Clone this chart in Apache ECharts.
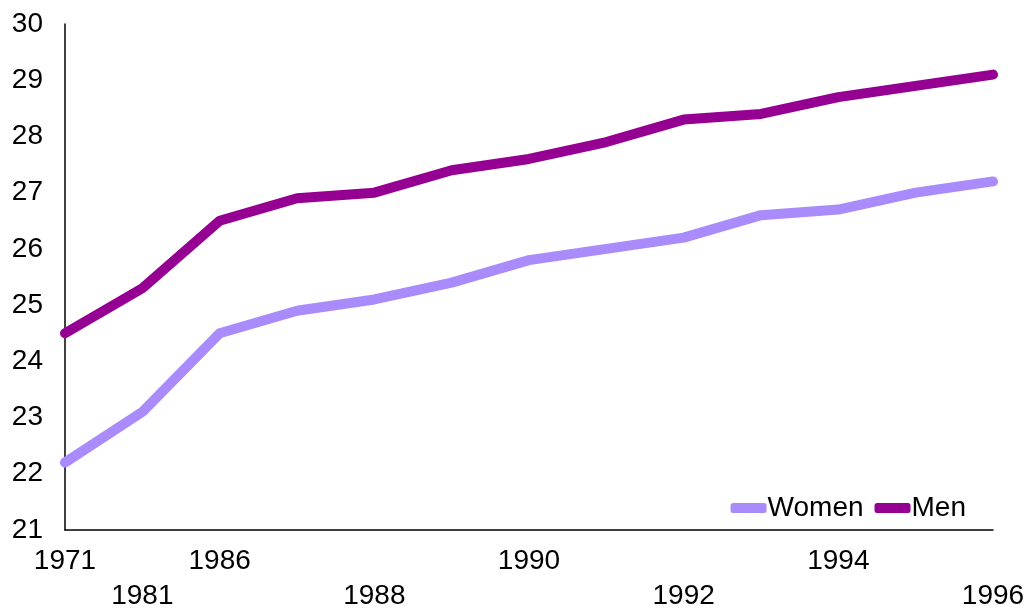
<!DOCTYPE html>
<html>
<head>
<meta charset="utf-8">
<script src="https://cdn.jsdelivr.net/npm/echarts@6/dist/echarts.min.js"></script>
<style>html,body{margin:0;padding:0;background:#fff}#c{width:1028px;height:614px}</style>
</head>
<body>
<div id="c"></div>
<script>
var years = ['1971','1981','1986','1987','1988','1989','1990','1991','1992','1993','1994','1995','1996'];
var shownLabels = ['1971','1981','1986','','1988','','1990','','1992','','1994','','1996'];
var lowerRow = [false,true,false,false,true,false,false,false,true,false,false,false,true];
var women = [22.2,23.1,24.5,24.9,25.1,25.4,25.8,26.0,26.2,26.6,26.7,27.0,27.2];
var men = [24.5,25.3,26.5,26.9,27.0,27.4,27.6,27.9,28.3,28.4,28.7,28.9,29.1];
var yTicks = {min:21, max:30, interval:1};

var font = 'Liberation Sans, Arial, sans-serif';
var chart = echarts.init(document.getElementById('c'), null, {renderer:'canvas'});
chart.setOption({
  animation:false,
  backgroundColor:'#fff',
  grid:{left:65, right:35, top:24, bottom:81, containLabel:false},
  legend:{
    right:57, top:489,
    itemWidth:36, itemHeight:10, itemGap:11,
    icon:'roundRect',
    textStyle:{fontFamily:font, fontSize:28, color:'#000', padding:[0,0,0,-4]},
    data:['Women','Men']
  },
  xAxis:{
    type:'category', data:years, boundaryGap:false,
    axisLine:{lineStyle:{color:'#000', width:1.5}},
    axisTick:{show:false},
    axisLabel:{
      interval:0, fontFamily:font, fontSize:28, color:'#000', margin:14, lineHeight:35,
      formatter:function(v, i){ var s = shownLabels[i]; if(!s) return ''; return lowerRow[i] ? '\n'+s : s; }
    },
    splitLine:{show:false}
  },
  yAxis:{
    type:'value', min:yTicks.min, max:yTicks.max, interval:yTicks.interval,
    axisLine:{show:true, lineStyle:{color:'#000', width:1.5}},
    axisTick:{show:false},
    axisLabel:{fontFamily:font, fontSize:28, color:'#000', margin:22},
    splitLine:{show:false}
  },
  series:[
    {name:'Women', type:'line', data:women, symbol:'none', lineStyle:{width:10, color:'#a98bfb', cap:'round', join:'round'}, itemStyle:{color:'#a98bfb'}},
    {name:'Men', type:'line', data:men, symbol:'none', lineStyle:{width:10, color:'#950093', cap:'round', join:'round'}, itemStyle:{color:'#950093'}}
  ]
});
</script>
</body>
</html>
